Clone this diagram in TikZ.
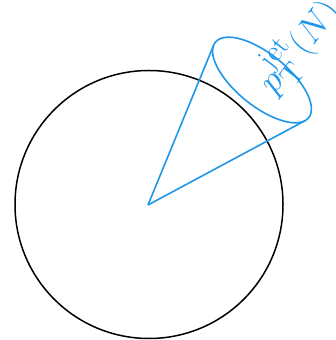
\documentclass[tikz,border=0pt]{standalone}
\usepackage{tikz}
\usepackage{xcolor}
\definecolor{jetblue}{HTML}{1E96EA}

\begin{document}
\begin{tikzpicture}[x=1pt, y=1pt,
		detector/.style={line width=1.5pt, black},
		jetcone/.style={line width=1.6pt, jetblue}]
		\useasboundingbox (0,0) rectangle (335,340);
		\clip (0,0) rectangle (335,340);

		% detector outline
		\draw[detector] (149,135.5) circle (134);

		% interaction point at the centre
		\coordinate (ip) at (148,135);

		% jet cone opening: rotated ellipse and its two tangent points
		\begin{scope}[shift={(262,260)}, rotate=-39]
				\draw[jetcone] (0,0) ellipse (60 and 26);
				\coordinate (rimA) at (188.8:60 and 26);
				\coordinate (rimB) at (-8.8:60 and 26);
			\end{scope}

		% cone sides
		\draw[jetcone] (ip) -- (rimA);
		\draw[jetcone] (ip) -- (rimB);

		% label inside the opening
		\node[jetblue, rotate=52, scale=1.45, font=\Huge, inner sep=0pt]
		(jetlabel) at (297,295) {$p_{\mathrm{T}}^{\mathrm{jet}}(N)$};
	\end{tikzpicture}
\end{document}
